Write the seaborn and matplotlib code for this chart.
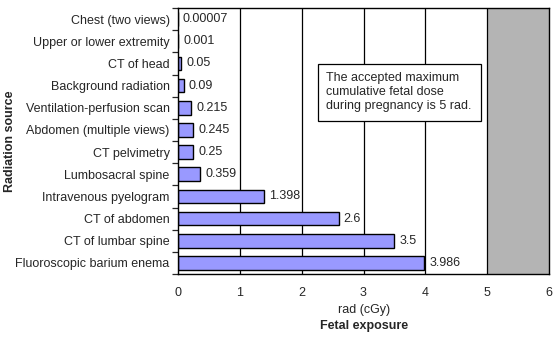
import matplotlib
matplotlib.use("Agg")
import matplotlib.pyplot as plt
import seaborn as sns
import pandas as pd

sources = ["Chest (two views)", "Upper or lower extremity", "CT of head",
           "Background radiation", "Ventilation-perfusion scan",
           "Abdomen (multiple views)", "CT pelvimetry", "Lumbosacral spine",
           "Intravenous pyelogram", "CT of abdomen", "CT of lumbar spine",
           "Fluoroscopic barium enema"]
doses = [0.00007, 0.001, 0.05, 0.09, 0.215, 0.245, 0.25, 0.359,
         1.398, 2.6, 3.5, 3.986]
dose_labels = ["0.00007", "0.001", "0.05", "0.09", "0.215", "0.245", "0.25",
               "0.359", "1.398", "2.6", "3.5", "3.986"]
xticks = [0, 1, 2, 3, 4, 5, 6]
limit = 5
note = "The accepted maximum\ncumulative fetal dose\nduring pregnancy is 5 rad."

df = pd.DataFrame({"source": sources, "dose": doses})

sns.set_style("white")
plt.rcParams['font.family'] = ['Liberation Sans', 'DejaVu Sans']

fig = plt.figure(figsize=(5.58, 3.38), dpi=100)
ax = fig.add_axes([178/558, 1 - 274/338, (549-178)/558, (274-8)/338])

ax.axvspan(limit, xticks[-1], color="#B4B4B4", zorder=0, lw=0)
for x in xticks[1:-1]:
    ax.axvline(x, color="black", lw=0.9, zorder=1)

sns.barplot(data=df, y="source", x="dose", orient="h", color="#9999FF",
            saturation=1, edgecolor="black", linewidth=1, width=0.62,
            ax=ax, zorder=2)

for i, (v, lab) in enumerate(zip(doses, dose_labels)):
    ax.text(v + 0.08, i, lab, va="center", ha="left", fontsize=9, zorder=3)

ax.set_xlim(0, 6)
ax.set_ylim(len(sources) - 0.5, -0.5)
ax.set_xticks(xticks)
ax.set_xticklabels([str(t) for t in xticks], fontsize=9)
ax.tick_params(axis="x", length=0, pad=9)
ax.set_yticks([i + 0.5 for i in range(-1, len(sources))], minor=True)
ax.tick_params(axis="y", which="major", length=0, pad=6, labelsize=9)
ax.tick_params(axis="y", which="minor", length=4, width=0.9, direction="out", left=True)
for s in ax.spines.values():
    s.set_color("black")
    s.set_linewidth(1)
    s.set_visible(True)

ax.set_ylabel("")
ax.set_xlabel("")
fig.text(10/558, 1 - 141/338, "Radiation source", rotation=90, ha="center", va="center",
         fontsize=9, fontweight="bold")
fig.text(364/558, 1 - 310/338, "rad (cGy)", ha="center", va="center", fontsize=9)
fig.text(364/558, 1 - 326/338, "Fetal exposure", ha="center", va="center",
         fontsize=9, fontweight="bold")

ax.text(2.4, 3.3, note, ha="left", va="center", fontsize=9, zorder=4,
        bbox=dict(boxstyle="square,pad=0.7", facecolor="white", edgecolor="black", lw=0.9))

fig.savefig("out.png", dpi=100)
